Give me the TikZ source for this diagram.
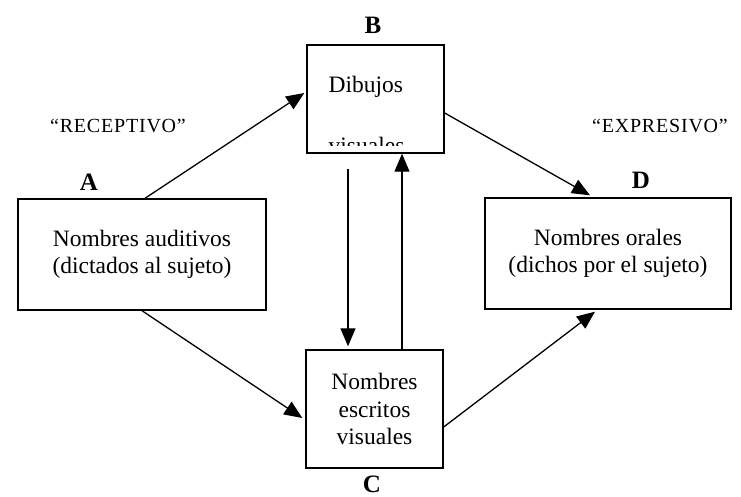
\documentclass[tikz,border=0pt]{standalone}
\usepackage{fontspec}
\setmainfont{Liberation Serif}
\usetikzlibrary{arrows.meta,calc}
\begin{document}
\begin{tikzpicture}[x=1pt,y=-1pt,
  box/.style={draw,line width=1.4pt,inner sep=0pt,align=center,
    font=\fontsize{23.5}{27.5}\selectfont},
  tag/.style={font=\fontsize{25}{25}\selectfont\bfseries,inner sep=0pt},
  mode/.style={font=\fontsize{20}{20}\selectfont\addfontfeatures{LetterSpace=4},inner sep=0pt},
  link/.style={line width=1.3pt,-{Triangle[length=18pt,width=15pt]}}]
\useasboundingbox (0,0) rectangle (741,497);

% the four boxes
\node[box,minimum width=248pt,minimum height=111pt] (A) at (142,254.5)
  {Nombres auditivos\\(dictados al sujeto)};
\node[box,minimum width=137pt,minimum height=108pt] (B) at (375.5,99) {};
\node[box,minimum width=137pt,minimum height=118pt] (C) at (374.5,409)
  {Nombres\\escritos\\visuales};
\node[box,minimum width=246pt,minimum height=111pt] (D) at (608,253.5)
  {Nombres orales\\(dichos por el sujeto)};

% text of box B, the second line cut off by the frame
\node[box,draw=none,anchor=west] (b1) at (328,87) {Dibujos};
\begin{scope}
  \clip (310,120) rectangle (440,146);
  \node[box,draw=none,anchor=west] (b2) at (328,145) {visuales};
\end{scope}

% letters
\node[tag] (la) at (89,182) {A};
\node[tag] (lb) at (373,25) {B};
\node[tag] (lc) at (372,484) {C};
\node[tag] (ld) at (641,180) {D};

% mode labels
\node[mode] (rec) at (118,126) {``RECEPTIVO''};
\node[mode] (exp) at (660,126) {``EXPRESIVO''};

% connectors
\draw[link] ([xshift=3pt]A.north) -- ([yshift=6pt,xshift=-2pt]B.west);
\draw[link] (A.south) -- ([yshift=-9pt,xshift=-3pt]C.west);
\draw[link] ([yshift=-14pt]B.east) -- ([xshift=-18pt,yshift=2pt]D.north);
\draw[link] ([yshift=-18pt]C.east) -- ([xshift=-13pt,yshift=-2pt]D.south);
\draw[link] ([xshift=-27.5pt,yshift=-15pt]B.south) -- ([xshift=-26.5pt,yshift=3pt]C.north);
\draw[link] ([xshift=27.5pt]C.north) -- ([xshift=26.5pt]B.south);
\end{tikzpicture}
\end{document}
